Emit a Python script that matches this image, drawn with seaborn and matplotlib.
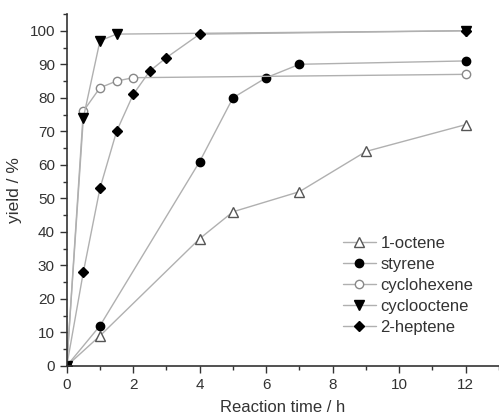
import numpy as np
import pandas as pd
import matplotlib
matplotlib.use("Agg")
import matplotlib.pyplot as plt
from matplotlib.ticker import MultipleLocator
import seaborn as sns

octene_t = [0, 1, 4, 5, 7, 9, 12]
octene_y = [0, 9, 38, 46, 52, 64, 72]
styrene_t = [0, 1, 4, 5, 6, 7, 12]
styrene_y = [0, 12, 61, 80, 86, 90, 91]
cyclohexene_t = [0, 0.5, 1, 1.5, 2, 12]
cyclohexene_y = [0, 76, 83, 85, 86, 87]
cyclooctene_t = [0, 0.5, 1, 1.5, 12]
cyclooctene_y = [0, 74, 97, 99, 100]
heptene_t = [0, 0.5, 1, 1.5, 2, 2.5, 3, 4, 12]
heptene_y = [0, 28, 53, 70, 81, 88, 92, 99, 100]

sns.set_style("ticks")
plt.rcParams['font.family'] = ['Liberation Sans', 'DejaVu Sans']

fig = plt.figure(figsize=(4.99, 4.19), dpi=100)
ax = fig.add_axes([0.1337, 0.1265, 0.8663, 0.8401])

series = [
    ("1-octene", octene_t, octene_y, dict(marker="^", mfc="white", mec="#555555", ms=7)),
    ("styrene", styrene_t, styrene_y, dict(marker="o", mfc="black", mec="black", ms=6)),
    ("cyclohexene", cyclohexene_t, cyclohexene_y, dict(marker="o", mfc="white", mec="#888888", ms=6)),
    ("cyclooctene", cyclooctene_t, cyclooctene_y, dict(marker="v", mfc="black", mec="black", ms=7)),
    ("2-heptene", heptene_t, heptene_y, dict(marker="D", mfc="black", mec="black", ms=5.5)),
]
for name, t, y, st in series:
    df = pd.DataFrame({"t": t, "y": y})
    sns.lineplot(data=df, x="t", y="y", ax=ax, color="#b0b0b0", lw=1.0,
                 marker=st["marker"], markerfacecolor=st["mfc"],
                 markeredgecolor=st["mec"], markersize=st["ms"],
                 markeredgewidth=1.0, label=name)

ax.set_xlim(0, 13)
ax.set_ylim(0, 105)
ax.xaxis.set_major_locator(MultipleLocator(2))
ax.xaxis.set_minor_locator(MultipleLocator(1))
ax.yaxis.set_major_locator(MultipleLocator(10))
ax.yaxis.set_minor_locator(MultipleLocator(5))
ax.tick_params(which="major", length=5, width=1, labelsize=11, colors="#333333")
ax.tick_params(which="minor", length=3, width=1, colors="#333333")
for s in ["top", "right"]:
    ax.spines[s].set_visible(False)
for s in ["left", "bottom"]:
    ax.spines[s].set_color("#333333")
    ax.spines[s].set_linewidth(1.2)

ax.set_xlabel("Reaction time / h", fontsize=12, color="#333333", labelpad=6)
ax.set_ylabel("yield / %", fontsize=12.5, color="#333333", labelpad=5)

leg = ax.legend(loc="lower right", bbox_to_anchor=(0.975, 0.045), frameon=False,
                fontsize=12, handlelength=2.0, handletextpad=0.25, labelspacing=0.36)
for txt in leg.get_texts():
    txt.set_color("#333333")

fig.savefig("out.png", dpi=100)
